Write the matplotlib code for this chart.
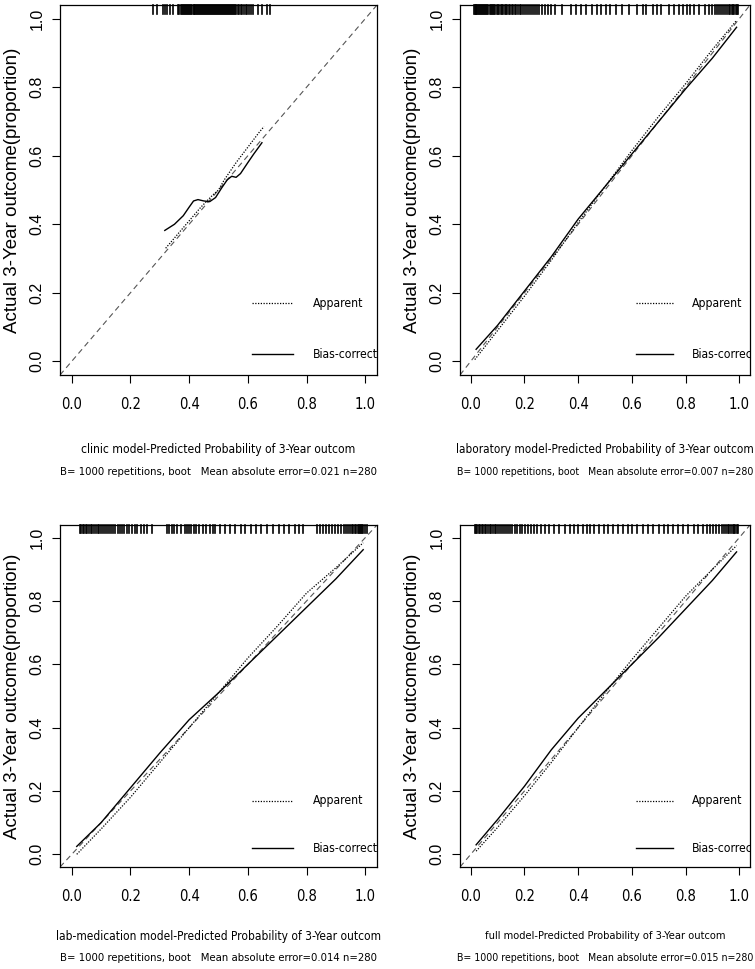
import numpy as np
import matplotlib
matplotlib.use('Agg')
import matplotlib.pyplot as plt
from matplotlib import font_manager
from matplotlib.font_manager import FontProperties

# Kalibrasyon eğrileri (okunan değerler)

clinic_app_x = [0.32, 0.36, 0.40, 0.44, 0.48, 0.50, 0.52, 0.56, 0.60, 0.64, 0.655]
clinic_app_y = [0.33, 0.37, 0.41, 0.45, 0.485, 0.50, 0.53, 0.58, 0.625, 0.67, 0.685]
clinic_bc_x = [0.317, 0.35, 0.38, 0.40, 0.415, 0.43, 0.45, 0.47, 0.49, 0.51, 0.53, 0.545, 0.56, 0.575, 0.60, 0.62, 0.648]
clinic_bc_y = [0.382, 0.40, 0.425, 0.45, 0.468, 0.472, 0.468, 0.466, 0.478, 0.505, 0.53, 0.54, 0.537, 0.548, 0.58, 0.605, 0.638]

lab_app_x = [0.015, 0.1, 0.2, 0.3, 0.4, 0.5, 0.6, 0.7, 0.8, 0.9, 0.99]
lab_app_y = [0.005, 0.09, 0.19, 0.295, 0.405, 0.51, 0.615, 0.715, 0.81, 0.91, 0.995]
lab_bc_x = [0.02, 0.1, 0.2, 0.3, 0.4, 0.5, 0.6, 0.7, 0.8, 0.9, 0.99]
lab_bc_y = [0.035, 0.105, 0.205, 0.305, 0.415, 0.51, 0.605, 0.70, 0.795, 0.885, 0.975]

med_app_x = [0.017, 0.1, 0.2, 0.3, 0.4, 0.5, 0.6, 0.7, 0.8, 0.9, 0.993]
med_app_y = [0.0, 0.08, 0.18, 0.29, 0.40, 0.51, 0.62, 0.72, 0.825, 0.905, 0.984]
med_bc_x = [0.017, 0.1, 0.2, 0.3, 0.4, 0.5, 0.6, 0.7, 0.8, 0.9, 0.993]
med_bc_y = [0.025, 0.10, 0.21, 0.32, 0.425, 0.51, 0.60, 0.69, 0.78, 0.87, 0.962]

full_app_x = [0.02, 0.1, 0.2, 0.3, 0.4, 0.5, 0.6, 0.7, 0.8, 0.9, 0.99]
full_app_y = [0.01, 0.085, 0.185, 0.29, 0.40, 0.51, 0.615, 0.715, 0.815, 0.90, 0.975]
full_bc_x = [0.02, 0.1, 0.2, 0.3, 0.4, 0.5, 0.6, 0.7, 0.8, 0.9, 0.99]
full_bc_y = [0.03, 0.11, 0.215, 0.33, 0.43, 0.515, 0.60, 0.685, 0.775, 0.865, 0.955]

# Rug değerleri (tahmini olasılıklar)

clinic_rug = [0.276, 0.29, 0.31, 0.317, 0.324, 0.334, 0.345, 0.362, 0.366, 0.371, 0.374, 0.379, 0.383,
              0.386, 0.39, 0.394, 0.397, 0.401, 0.404, 0.408, 0.411, 0.415, 0.418, 0.421, 0.425, 0.428,
              0.431, 0.434, 0.438, 0.441, 0.444, 0.448, 0.451, 0.454, 0.458, 0.461, 0.464, 0.468, 0.471,
              0.474, 0.478, 0.481, 0.484, 0.488, 0.491, 0.494, 0.498, 0.501, 0.504, 0.508, 0.511, 0.514,
              0.518, 0.521, 0.525, 0.528, 0.531, 0.535, 0.538, 0.542, 0.545, 0.549, 0.553, 0.557, 0.561,
              0.566, 0.571, 0.575, 0.58, 0.586, 0.592, 0.598, 0.604, 0.611, 0.618, 0.635, 0.648, 0.666, 0.676]

lab_rug = [0.011, 0.014, 0.018, 0.021, 0.025, 0.028, 0.032, 0.035, 0.039, 0.043, 0.046, 0.05, 0.054,
           0.058, 0.062, 0.066, 0.07, 0.075, 0.079, 0.083, 0.088, 0.092, 0.097, 0.101, 0.106, 0.111,
           0.116, 0.121, 0.126, 0.131, 0.136, 0.142, 0.147, 0.153, 0.158, 0.164, 0.17, 0.176, 0.182,
           0.188, 0.195, 0.202, 0.209, 0.216, 0.223, 0.231, 0.239, 0.247, 0.256, 0.265, 0.275, 0.286,
           0.298, 0.312, 0.34, 0.372, 0.392, 0.41, 0.43, 0.452, 0.47, 0.486, 0.503, 0.52, 0.54,
           0.565, 0.59, 0.618, 0.642, 0.653, 0.68, 0.695, 0.71, 0.738, 0.756, 0.776, 0.79, 0.805,
           0.818, 0.83, 0.85, 0.872, 0.888, 0.9, 0.908, 0.916, 0.924, 0.932, 0.94, 0.947, 0.954, 0.96,
           0.966, 0.972, 0.977, 0.982, 0.986, 0.99, 0.994]

med_rug = [0.027, 0.032, 0.037, 0.042, 0.048, 0.053, 0.058, 0.064, 0.07, 0.076, 0.082, 0.088, 0.094,
           0.1, 0.107, 0.113, 0.12, 0.127, 0.134, 0.141, 0.148, 0.156, 0.163, 0.171, 0.179, 0.187, 0.196,
           0.205, 0.214, 0.224, 0.235, 0.246, 0.258, 0.273, 0.324, 0.332, 0.34, 0.35, 0.36, 0.372, 0.385,
           0.392, 0.4, 0.408, 0.416, 0.425, 0.435, 0.446, 0.458, 0.47, 0.48, 0.488, 0.505, 0.523, 0.54,
           0.555, 0.575, 0.59, 0.61, 0.628, 0.645, 0.665, 0.685, 0.705, 0.722, 0.74, 0.76, 0.775, 0.788,
           0.836, 0.845, 0.856, 0.866, 0.876, 0.887, 0.898, 0.908, 0.918, 0.927, 0.935, 0.942, 0.949,
           0.954, 0.959, 0.964, 0.969, 0.974, 0.978, 0.982, 0.986, 0.99, 0.994, 1.0, 1.005]

full_rug = [0.015, 0.02, 0.025, 0.03, 0.036, 0.041, 0.047, 0.052, 0.058, 0.064, 0.07, 0.076, 0.082,
            0.089, 0.095, 0.102, 0.109, 0.116, 0.123, 0.131, 0.139, 0.147, 0.155, 0.164, 0.173, 0.182,
            0.192, 0.202, 0.213, 0.224, 0.236, 0.248, 0.262, 0.276, 0.29, 0.31, 0.33, 0.35, 0.368, 0.385,
            0.4, 0.418, 0.433, 0.445, 0.46, 0.478, 0.495, 0.512, 0.53, 0.548, 0.566, 0.585, 0.602, 0.62,
            0.64, 0.66, 0.68, 0.7, 0.718, 0.735, 0.752, 0.77, 0.79, 0.81, 0.83, 0.848, 0.864, 0.878,
            0.892, 0.904, 0.915, 0.925, 0.934, 0.942, 0.95, 0.957, 0.963, 0.969, 0.975, 0.98, 0.985,
            0.99, 0.995]

panels = [
    ('clinic model-Predicted Probability of 3-Year outcom', '0.021',
     clinic_app_x, clinic_app_y, clinic_bc_x, clinic_bc_y, clinic_rug),
    ('laboratory model-Predicted Probability of 3-Year outcom', '0.007',
     lab_app_x, lab_app_y, lab_bc_x, lab_bc_y, lab_rug),
    ('lab-medication model-Predicted Probability of 3-Year outcom', '0.014',
     med_app_x, med_app_y, med_bc_x, med_bc_y, med_rug),
    ('full model-Predicted Probability of 3-Year outcom', '0.015',
     full_app_x, full_app_y, full_bc_x, full_bc_y, full_rug),
]

ticks = [0.0, 0.2, 0.4, 0.6, 0.8, 1.0]
tick_labels = ['0.0', '0.2', '0.4', '0.6', '0.8', '1.0']

# Dar yazı tipi varsa onu kullan, yoksa Liberation Sans
narrow_fp = None
for f in font_manager.fontManager.ttflist:
    n = f.name.lower()
    if ('narrow' in n or 'condensed' in n or f.stretch in ('condensed', 'semi-condensed')) \
            and f.style == 'normal' and f.weight in (400, 'normal', 'regular') and 'mono' not in n \
            and 'serif' not in n:
        narrow_fp = FontProperties(fname=f.fname)
        break
if narrow_fp is None:
    narrow_fp = FontProperties(family='Liberation Sans')

regular = ['Liberation Sans', 'DejaVu Sans']

W, H = 755, 969
fig = plt.figure(figsize=(W / 100, H / 100), dpi=100)
renderer = fig.canvas.get_renderer()


def fit(t, target_px):
    # yazı genişliğini hedef piksel genişliğine ayarla
    w = t.get_window_extent(renderer).width
    t.set_fontsize(t.get_fontsize() * target_px / w)


def nfp(size):
    fp = narrow_fp.copy()
    fp.set_size(size)
    return fp


# Panellerin piksel konumları: (sol, sağ, üst, alt)
boxes = [(60, 377, 5, 375), (460, 750, 5, 375), (60, 377, 525, 867), (460, 750, 525, 867)]
title_w = [275, 296, 322, 242]
sub_w = [318, 296, 318, 296]

# x ekseni rakam boyutu
probe = fig.text(0, 0, '0.0', fontproperties=nfp(12))
fit(probe, 21)
xtick_size = probe.get_fontsize()
probe.remove()

for i, (box, p) in enumerate(zip(boxes, panels)):
    l, r, t, b = box
    ax = fig.add_axes([l / W, 1 - b / H, (r - l) / W, (b - t) / H])
    title, err, ax_x, ax_y, bc_x, bc_y, rug = p
    ax.set_xlim(-0.04, 1.04)
    ax.set_ylim(-0.04, 1.04)

    # İdeal çizgi
    ax.plot([-0.04, 1.04], [-0.04, 1.04], color='#555555', linestyle=(0, (5, 3.5)), linewidth=0.8)
    ax.plot(ax_x, ax_y, color='black', linestyle=(0, (1, 1.2)), linewidth=0.9)
    ax.plot(bc_x, bc_y, color='black', linestyle='-', linewidth=1.0)

    # Rug
    for v in rug:
        ax.plot([v, v], [1.04, 1.015], color='black', linewidth=1.2, clip_on=False)

    # Lejant (R'deki gibi kutu kenarında kırpılır)
    ax.plot([0.614, 0.754], [0.17, 0.17], color='black', linestyle=(0, (1, 1.2)), linewidth=0.9)
    ax.plot([0.614, 0.754], [0.02, 0.02], color='black', linewidth=1.0)
    t1 = ax.text(0.823, 0.17, 'Apparent', fontproperties=nfp(10), va='center', ha='left', clip_on=True)
    fit(t1, 50)
    ax.text(0.823, 0.02, 'Bias-correct', fontproperties=nfp(t1.get_fontsize()), va='center',
            ha='left', clip_on=True)

    ax.set_xticks(ticks)
    ax.set_xticklabels(tick_labels, fontproperties=nfp(xtick_size))
    ax.set_yticks(ticks)
    ax.set_yticklabels(tick_labels, family=regular, fontsize=11.5, rotation=90, va='center')
    ax.tick_params(axis='x', length=6, width=0.8, pad=10)
    ax.tick_params(axis='y', length=6, width=0.8, pad=5)
    for s in ax.spines.values():
        s.set_linewidth(0.9)

    ax.set_ylabel('Actual 3-Year outcome(proportion)', family=regular, fontsize=13.5, labelpad=6)

    off = 54 if i < 2 else 50
    a1 = ax.annotate(title, xy=(0.5, 0), xycoords='axes fraction', xytext=(0, -off),
                     textcoords='offset points', ha='center', va='center', fontproperties=nfp(10))
    fit(a1, title_w[i])
    a2 = ax.annotate('B= 1000 repetitions, boot   Mean absolute error=' + err + ' n=280',
                     xy=(0.5, 0), xycoords='axes fraction', xytext=(0, -off - 15.5),
                     textcoords='offset points', ha='center', va='center', fontproperties=nfp(10))
    fit(a2, sub_w[i])

fig.savefig('out.png', dpi=100)
